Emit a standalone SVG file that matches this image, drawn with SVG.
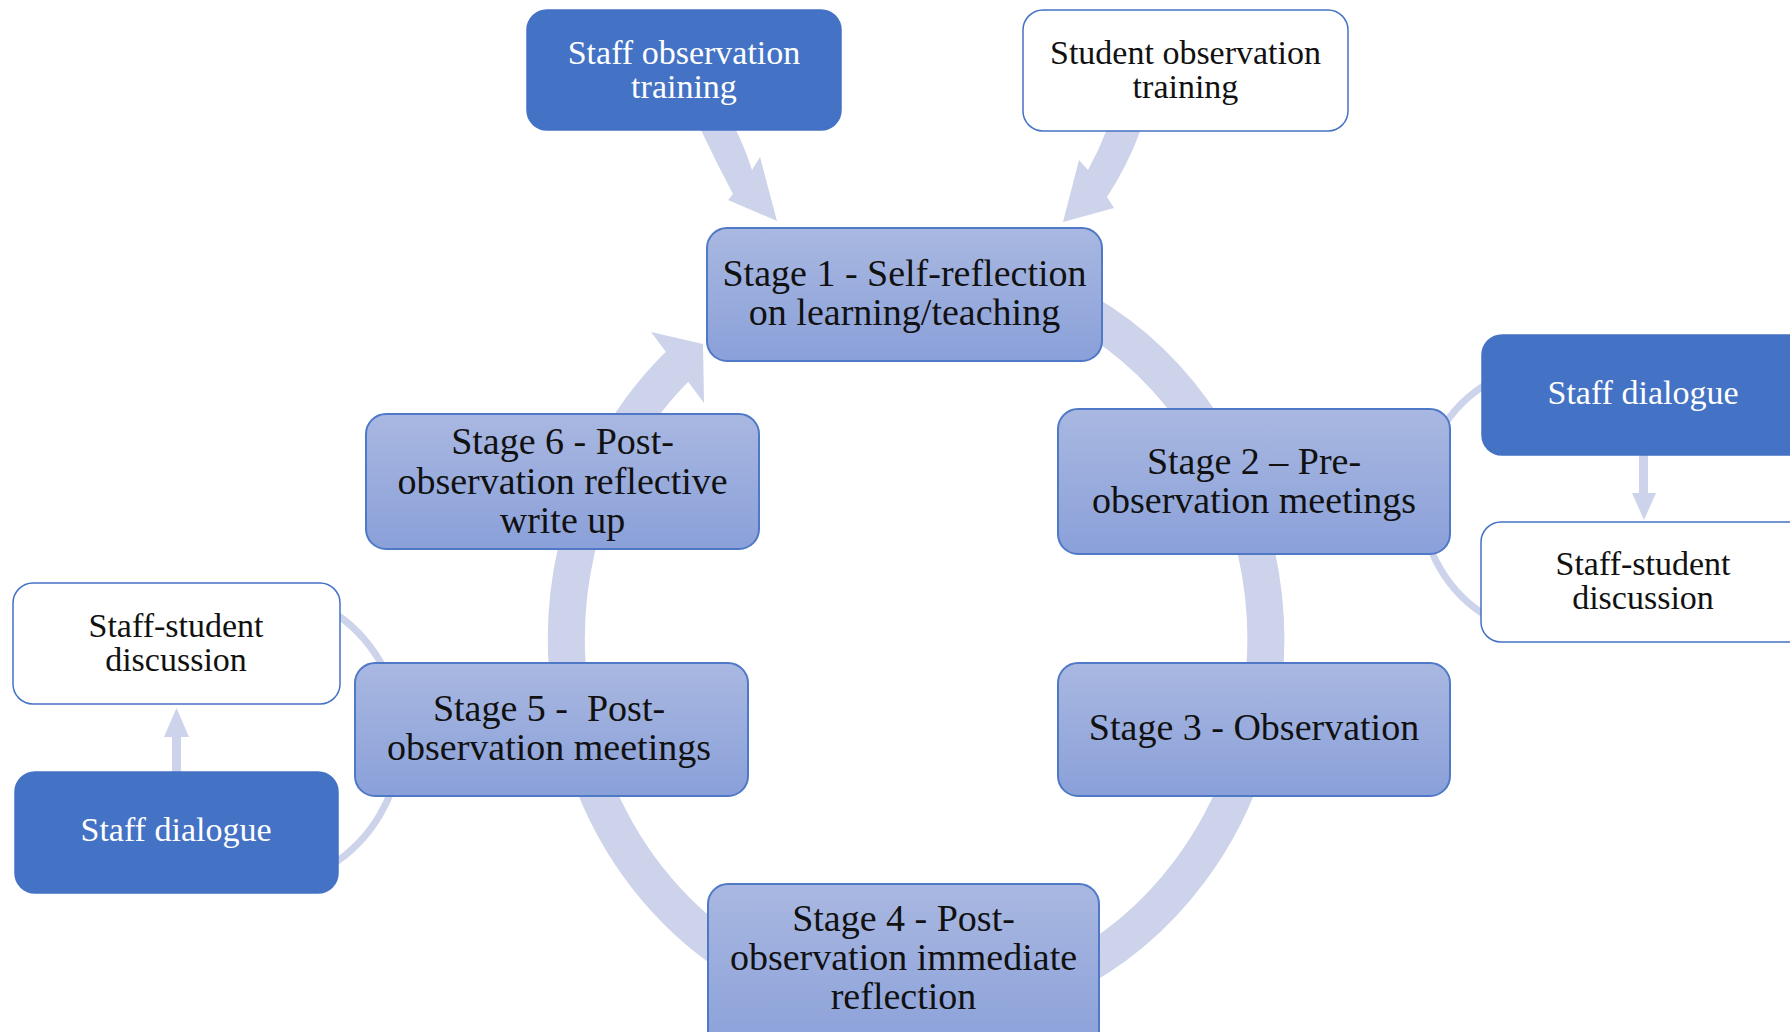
<svg xmlns="http://www.w3.org/2000/svg" width="1790" height="1032" viewBox="0 0 1790 1032">
  <defs>
    <linearGradient id="stageFill" x1="0" y1="0" x2="0" y2="1">
      <stop offset="0" stop-color="#A9B8E1"/>
      <stop offset="1" stop-color="#8AA0D9"/>
    </linearGradient>
    <style>
      .ring { fill: none; stroke: #CDD3EA; stroke-width: 37; }
      .thin { fill: none; stroke: #CDD3EA; stroke-width: 7; }
      .arrowfill { fill: #CDD3EA; stroke: none; }
      .stage { fill: url(#stageFill); stroke: #4F78C6; stroke-width: 2; }
      .dark { fill: #4472C4; stroke: #4472C4; stroke-width: 1.5; }
      .light { fill: #FFFFFF; stroke: #4472C4; stroke-width: 1.5; }
      .tStage { font-family: "Liberation Serif", "Times New Roman", serif; font-size: 38px; fill: #111111; text-anchor: middle; }
      .tSmall { font-family: "Liberation Serif", "Times New Roman", serif; font-size: 34px; fill: #111111; text-anchor: middle; }
      .tWhite { font-family: "Liberation Serif", "Times New Roman", serif; font-size: 34px; fill: #FFFFFF; text-anchor: middle; }
    </style>
  </defs>
  <rect x="0" y="0" width="1790" height="1032" fill="#FFFFFF"/>

  <g id="connectors">
    <!-- main cycle ring -->
    <path class="ring" d="M 760 305 A 350 373 0 1 1 916 1012 A 350 373 0 0 1 684 360"/>
    <polygon class="arrowfill" points="651,332 703,344 704,403"/>
    <!-- side arcs -->
    <path class="thin" d="M 1490 382 A 136 136 0 0 0 1490 618"/>
    <path class="thin" d="M 330 610 A 151 151 0 0 1 330 866"/>
    <!-- top arrows into Stage 1 -->
    <path class="arrowfill" d="M 700 128 L 735 128 Q 745 148 752 170 L 760 157 L 777 221 L 728 200 L 733 194 Q 716 162 700 128 Z"/>
    <path class="arrowfill" d="M 1107 129 L 1141 129 Q 1128 165 1107 197 L 1114 208 L 1063 222 L 1079 160 L 1088 170 Q 1099 150 1107 129 Z"/>
    <!-- right small arrow -->
    <rect class="arrowfill" x="1639" y="454" width="9" height="40"/>
    <polygon class="arrowfill" points="1632,493 1656,493 1644,520"/>
    <!-- left small arrow -->
    <rect class="arrowfill" x="172" y="736" width="9" height="37"/>
    <polygon class="arrowfill" points="164,737 189,737 176.5,708"/>
  </g>

  <g id="staff-observation-training">
    <rect class="dark" x="527" y="10" width="314" height="120" rx="20"/>
    <text class="tWhite" x="684" y="63.5">Staff observation</text>
    <text class="tWhite" x="684" y="98">training</text>
  </g>

  <g id="student-observation-training">
    <rect class="light" x="1023" y="10" width="325" height="121" rx="20"/>
    <text class="tSmall" x="1185.5" y="63.5">Student observation</text>
    <text class="tSmall" x="1185.5" y="98">training</text>
  </g>

  <g id="stage1">
    <rect class="stage" x="707" y="228" width="395" height="133" rx="20"/>
    <text class="tStage" x="904.5" y="286">Stage 1 - Self-reflection</text>
    <text class="tStage" x="904.5" y="324.5">on learning/teaching</text>
  </g>

  <g id="stage2">
    <rect class="stage" x="1058" y="409" width="392" height="145" rx="20"/>
    <text class="tStage" x="1254" y="474">Stage 2 – Pre-</text>
    <text class="tStage" x="1254" y="513">observation meetings</text>
  </g>

  <g id="stage3">
    <rect class="stage" x="1058" y="663" width="392" height="133" rx="20"/>
    <text class="tStage" x="1254" y="740">Stage 3 - Observation</text>
  </g>

  <g id="stage4">
    <rect class="stage" x="708" y="884" width="391" height="170" rx="20"/>
    <text class="tStage" x="903.5" y="931">Stage 4 - Post-</text>
    <text class="tStage" x="903.5" y="970">observation immediate</text>
    <text class="tStage" x="903.5" y="1009">reflection</text>
  </g>

  <g id="stage5">
    <rect class="stage" x="355" y="663" width="393" height="133" rx="20"/>
    <text class="tStage" x="549" y="721" style="white-space:pre">Stage 5 -  Post-</text>
    <text class="tStage" x="549" y="760">observation meetings</text>
  </g>

  <g id="stage6">
    <rect class="stage" x="366" y="414" width="393" height="135" rx="20"/>
    <text class="tStage" x="562.5" y="454">Stage 6 - Post-</text>
    <text class="tStage" x="562.5" y="493.5">observation reflective</text>
    <text class="tStage" x="562.5" y="533">write up</text>
  </g>

  <g id="staff-dialogue-right">
    <rect class="dark" x="1482" y="335" width="330" height="120" rx="20"/>
    <text class="tWhite" x="1643" y="404">Staff dialogue</text>
  </g>

  <g id="staff-student-discussion-right">
    <rect class="light" x="1481" y="522" width="330" height="120" rx="20"/>
    <text class="tSmall" x="1643" y="575">Staff-student</text>
    <text class="tSmall" x="1643" y="609">discussion</text>
  </g>

  <g id="staff-student-discussion-left">
    <rect class="light" x="13" y="583" width="327" height="121" rx="20"/>
    <text class="tSmall" x="176" y="637">Staff-student</text>
    <text class="tSmall" x="176" y="671">discussion</text>
  </g>

  <g id="staff-dialogue-left">
    <rect class="dark" x="15" y="772" width="323" height="121" rx="20"/>
    <text class="tWhite" x="176" y="841">Staff dialogue</text>
  </g>
</svg>
